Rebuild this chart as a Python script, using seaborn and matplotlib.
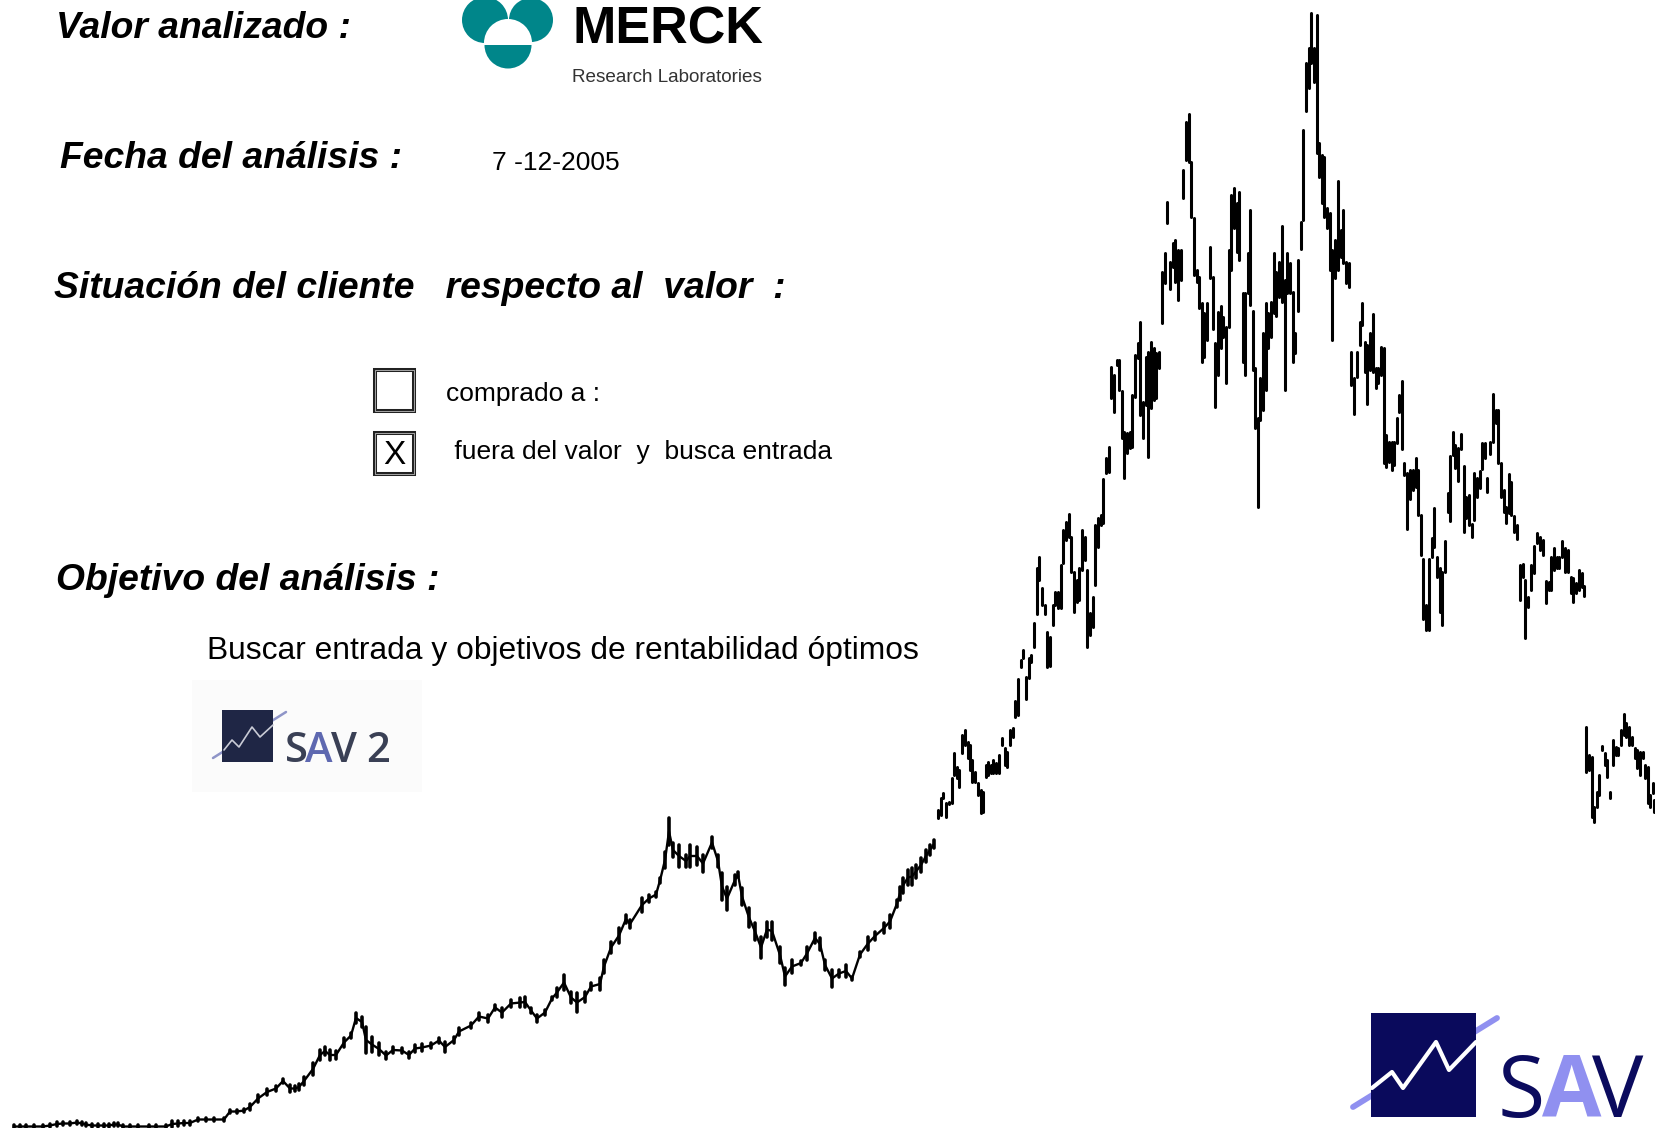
import numpy as np
import pandas as pd
import matplotlib
matplotlib.use("Agg")
import matplotlib.pyplot as plt
from matplotlib import font_manager
from matplotlib.patches import Circle, Rectangle, Wedge
import seaborn as sns

# price bars (position, high, low, in picture units, y grows downwards)
base_x = [14, 20, 26, 34, 43, 50, 57, 63, 70, 77, 82, 86, 92, 98, 104, 109, 114, 118, 123, 130, 138, 149, 156, 166, 172, 178, 184, 190, 198, 206, 214, 224, 230, 237, 244, 250, 258, 267, 276, 283, 290, 295, 299, 304, 313, 320, 325, 330, 336, 344, 351]
base_hi = [1125, 1125, 1125, 1125, 1125, 1124, 1122, 1122, 1122, 1121, 1122, 1123, 1124, 1124, 1124, 1124, 1123, 1123, 1125, 1125, 1125, 1125, 1125, 1125, 1121, 1121, 1121, 1121, 1118, 1118, 1118, 1118, 1110, 1110, 1109, 1104, 1095, 1089, 1086, 1079, 1085, 1086, 1084, 1077, 1063, 1050, 1047, 1050, 1051, 1038, 1033]
base_lo = [1128, 1128, 1128, 1128, 1128, 1127, 1126, 1125, 1125, 1124, 1125, 1126, 1127, 1127, 1127, 1127, 1126, 1126, 1128, 1128, 1128, 1128, 1128, 1128, 1127, 1126, 1125, 1125, 1121, 1121, 1121, 1121, 1113, 1113, 1112, 1110, 1102, 1095, 1091, 1083, 1092, 1091, 1090, 1085, 1075, 1060, 1055, 1060, 1059, 1047, 1038]

hump_x = [356, 362, 366, 372, 379, 386, 393, 402, 409, 415, 422, 431, 439, 445, 454, 459, 471, 479, 488, 495, 502, 511, 520, 525, 531, 537, 545, 552, 557, 564, 571, 577, 585, 591, 600, 604, 611, 619, 626, 630, 642, 649, 656, 660, 665, 669]
hump_hi = [1013, 1017, 1027, 1037, 1043, 1052, 1047, 1048, 1052, 1045, 1044, 1043, 1038, 1042, 1037, 1028, 1023, 1013, 1015, 1005, 1008, 1000, 998, 997, 1008, 1015, 1010, 997, 988, 975, 992, 993, 992, 983, 978, 960, 942, 928, 915, 920, 898, 895, 892, 878, 852, 818]
hump_lo = [1023, 1027, 1053, 1052, 1055, 1059, 1053, 1053, 1058, 1052, 1051, 1048, 1043, 1052, 1043, 1035, 1028, 1020, 1022, 1010, 1017, 1007, 1007, 1007, 1013, 1022, 1015, 1000, 997, 990, 1003, 1012, 1002, 990, 990, 973, 953, 943, 923, 928, 912, 902, 897, 883, 868, 845]

dip_x = [673, 679, 686, 690, 697, 703, 712, 718, 722, 727, 735, 738, 742, 749, 755, 761, 767, 772, 780, 785, 792, 801, 807, 815, 820, 825, 832, 839, 846, 852, 860, 868, 875, 884, 890, 897, 900, 903, 908, 912, 916, 921, 926, 930, 934]
dip_hi = [843, 845, 855, 845, 847, 855, 837, 855, 873, 887, 875, 872, 888, 908, 923, 937, 922, 922, 947, 968, 960, 961, 947, 933, 938, 960, 970, 970, 965, 977, 952, 937, 932, 923, 915, 900, 887, 878, 870, 868, 865, 858, 850, 845, 840]
dip_lo = [857, 867, 867, 867, 865, 872, 848, 867, 900, 910, 885, 877, 905, 927, 940, 958, 937, 940, 963, 985, 973, 965, 960, 943, 950, 970, 987, 977, 977, 980, 957, 950, 940, 933, 928, 907, 900, 893, 885, 885, 878, 872, 862, 855, 848]

rise_x = [938, 941, 943, 946, 949, 952, 954, 957, 959, 962, 965, 968, 970, 972, 975, 978, 981, 983, 986, 988, 991, 993, 996, 999, 1002, 1005, 1007, 1010, 1013, 1015, 1018, 1021, 1023, 1026, 1029, 1031, 1034, 1037, 1039, 1042, 1045, 1047, 1050, 1053, 1055, 1058, 1061, 1063, 1066, 1069, 1071, 1074, 1077, 1079, 1082, 1085, 1087, 1090, 1093, 1095, 1098, 1101, 1103, 1106, 1109]
rise_hi = [810, 798, 793, 803, 802, 778, 753, 767, 770, 735, 730, 742, 745, 760, 772, 783, 790, 792, 765, 762, 765, 760, 763, 755, 738, 748, 752, 730, 728, 701, 679, 660, 650, 677, 658, 655, 623, 568, 557, 588, 605, 632, 637, 605, 592, 592, 565, 530, 522, 514, 537, 572, 580, 568, 530, 537, 570, 613, 597, 525, 518, 515, 479, 458, 447]
rise_lo = [818, 815, 798, 817, 804, 803, 775, 778, 787, 753, 745, 758, 770, 782, 782, 795, 813, 812, 777, 775, 773, 773, 773, 773, 745, 765, 767, 745, 737, 717, 715, 667, 658, 699, 678, 662, 647, 614, 580, 605, 614, 667, 666, 625, 605, 608, 608, 563, 540, 537, 572, 612, 602, 600, 570, 560, 647, 635, 627, 585, 547, 525, 523, 473, 472]

top_x = [1111, 1114, 1117, 1119, 1122, 1124, 1127, 1130, 1132, 1135, 1138, 1140, 1143, 1146, 1148, 1151, 1154, 1156, 1159, 1162, 1165, 1167, 1170, 1173, 1175, 1178, 1181, 1183, 1186, 1189, 1191, 1194, 1197, 1199, 1202, 1204, 1207, 1210, 1213, 1215, 1218, 1221, 1223, 1226, 1229, 1231, 1234, 1237, 1239, 1243, 1245, 1248, 1250, 1253, 1255, 1258, 1260, 1263, 1266, 1268, 1271, 1274, 1276, 1279, 1282, 1285, 1287, 1290, 1293, 1295, 1298]
top_hi = [367, 375, 360, 360, 391, 432, 433, 432, 395, 355, 343, 322, 402, 357, 352, 342, 348, 353, 352, 272, 253, 202, 262, 243, 240, 250, 250, 170, 122, 114, 162, 218, 270, 277, 303, 313, 303, 247, 277, 343, 312, 306, 317, 327, 250, 195, 188, 203, 192, 293, 293, 253, 210, 311, 368, 418, 378, 333, 303, 313, 302, 253, 272, 262, 226, 280, 253, 263, 292, 333, 260]
top_lo = [398, 412, 365, 390, 438, 478, 453, 448, 447, 397, 358, 415, 438, 405, 457, 408, 400, 398, 368, 323, 283, 223, 289, 267, 282, 300, 280, 198, 160, 162, 217, 275, 282, 308, 362, 357, 340, 278, 329, 407, 375, 348, 337, 383, 327, 270, 228, 252, 260, 362, 375, 293, 305, 370, 428, 507, 420, 410, 390, 348, 337, 313, 316, 297, 302, 390, 293, 293, 362, 353, 311]

peak_x = [1301, 1303, 1306, 1309, 1311, 1314, 1317, 1319, 1322, 1324, 1327, 1330, 1332, 1335, 1338, 1341, 1343, 1346, 1349, 1351, 1354, 1357, 1360, 1362, 1365, 1367, 1370, 1373, 1376, 1378, 1381, 1384, 1386, 1389, 1392, 1394, 1397, 1399, 1402, 1404]
peak_hi = [222, 130, 63, 48, 13, 48, 15, 143, 155, 157, 208, 213, 250, 240, 181, 230, 210, 262, 263, 352, 378, 352, 322, 303, 342, 345, 333, 314, 368, 368, 347, 348, 435, 442, 442, 442, 418, 395, 381, 463]
peak_lo = [249, 220, 111, 88, 63, 82, 153, 177, 203, 217, 228, 270, 340, 278, 270, 257, 263, 283, 287, 385, 414, 377, 345, 325, 372, 404, 370, 372, 388, 383, 375, 463, 467, 462, 470, 465, 443, 412, 449, 475]

fall_x = [1407, 1410, 1413, 1416, 1418, 1421, 1423, 1426, 1429, 1432, 1434, 1437, 1440, 1442, 1445, 1448, 1450, 1453, 1455, 1458, 1461, 1464, 1466, 1469, 1472, 1474, 1477, 1480, 1482, 1485, 1487, 1490, 1493, 1496, 1498, 1501, 1504, 1506, 1509, 1511, 1514, 1517, 1520, 1523, 1525, 1528, 1531, 1534, 1537, 1540, 1543, 1546, 1549, 1551, 1554, 1557, 1559, 1562, 1565, 1568, 1571, 1573, 1576, 1579, 1582, 1584]
fall_hi = [473, 470, 470, 458, 470, 515, 559, 605, 559, 538, 508, 557, 568, 572, 541, 493, 456, 432, 445, 448, 434, 466, 497, 495, 524, 473, 478, 471, 443, 443, 478, 442, 394, 410, 410, 463, 490, 507, 474, 482, 516, 525, 565, 564, 580, 597, 565, 546, 533, 537, 540, 581, 582, 557, 548, 557, 557, 541, 548, 550, 577, 578, 583, 570, 573, 586]
fall_lo = [529, 499, 490, 487, 515, 555, 619, 630, 630, 557, 547, 577, 612, 625, 572, 512, 521, 455, 468, 481, 449, 532, 518, 525, 537, 520, 497, 488, 469, 458, 492, 454, 442, 423, 463, 497, 512, 523, 513, 515, 532, 539, 600, 577, 638, 607, 590, 573, 543, 550, 555, 603, 590, 590, 570, 568, 568, 557, 572, 572, 593, 602, 593, 590, 587, 596]

tail_x = [1586, 1589, 1592, 1594, 1597, 1599, 1602, 1605, 1607, 1610, 1613, 1616, 1618, 1621, 1624, 1626, 1629, 1632, 1635, 1637, 1640, 1643, 1645, 1648, 1650, 1653, 1654]
tail_hi = [727, 755, 757, 807, 792, 775, 746, 753, 760, 792, 740, 747, 748, 730, 714, 723, 727, 737, 748, 750, 752, 752, 765, 767, 795, 783, 800]
tail_lo = [772, 770, 817, 822, 807, 795, 750, 765, 777, 798, 765, 755, 755, 745, 735, 737, 745, 745, 758, 768, 775, 758, 778, 803, 807, 793, 812]

headings = ["Valor analizado :", "Fecha del análisis :", "Situación del cliente   respecto al  valor  :", "Objetivo del análisis :"]
analysis_date = "7 -12-2005"
option_labels = ["comprado a :", " fuera del valor  y  busca entrada"]
objective = "Buscar entrada y objetivos de rentabilidad óptimos"

sns.set_theme(style="white")
installed = {f.name for f in font_manager.fontManager.ttflist}
narrow = "Liberation Sans Narrow" if "Liberation Sans Narrow" in installed else "Liberation Sans"
plt.rcParams["font.family"] = ["Liberation Sans", "DejaVu Sans"]

low_x = base_x + hump_x + dip_x
low_hi = base_hi + hump_hi + dip_hi
low_lo = base_lo + hump_lo + dip_lo
high_x = rise_x + top_x + peak_x + fall_x + tail_x
high_hi = rise_hi + top_hi + peak_hi + fall_hi + tail_hi
high_lo = rise_lo + top_lo + peak_lo + fall_lo + tail_lo


def long_form(x, hi, lo):
    bars = pd.DataFrame({"bar": range(len(x)), "x": x, "hi": hi, "lo": lo})
    return bars.melt(id_vars=["bar", "x"], value_vars=["hi", "lo"], value_name="price")


trace = pd.DataFrame({"x": low_x, "price": (np.array(low_hi) + np.array(low_lo)) / 2})

fig = plt.figure(figsize=(16.55, 11.28), dpi=100)
ax = fig.add_axes([0, 0, 1, 1])

sns.lineplot(data=trace, x="x", y="price", estimator=None, sort=False,
             color="black", linewidth=1.7, legend=False, ax=ax)
sns.lineplot(data=long_form(low_x, low_hi, low_lo), x="x", y="price", units="bar",
             estimator=None, sort=False, color="black", linewidth=2.6, legend=False, ax=ax)
sns.lineplot(data=long_form(high_x, high_hi, high_lo), x="x", y="price", units="bar",
             estimator=None, sort=False, color="black", linewidth=2.2, legend=False, ax=ax)

ax.set_xlim(0, 1655)
ax.set_ylim(1128, 0)
ax.axis("off")

# text block
bold = dict(fontweight="bold", fontstyle="italic", fontsize=26.8, color="black", va="center")
ax.text(56, 28, headings[0], **bold)
ax.text(60, 159, headings[1], **bold)
ax.text(54, 288, headings[2], **bold)
ax.text(56, 581, headings[3], **bold)
ax.text(492, 163, analysis_date, fontsize=19, color="black", va="center")
ax.text(446, 394, option_labels[0], fontsize=19, color="black", va="center")
ax.text(447, 452, option_labels[1], fontsize=19, color="black", va="center")
ax.text(207, 651, objective, fontsize=22.9, color="black", va="center")

# check boxes
for top in [368, 431]:
    ax.add_patch(Rectangle((375, top + 2), 39, 41, fc="white", ec="#222222", lw=2.9))
    ax.add_patch(Rectangle((375, top + 2), 39, 41, fill=False, ec="#bbbbbb", lw=0.6))
ax.text(394.5, 455, "X", fontsize=24, color="black", ha="center", va="center")

# Merck logo
teal = "#00868a"
ax.add_patch(Circle((485, 20), 23, fc=teal, ec="none"))
ax.add_patch(Circle((531, 20), 22, fc=teal, ec="none"))
ax.add_patch(Circle((508, 43), 24, fc="white", ec="none"))
ax.add_patch(Wedge((508, 45), 23.5, 0, 180, fc=teal, ec="none"))
ax.text(572, 44, "MERCK", family=narrow, fontweight="bold", fontsize=37.5, color="black",
        va="baseline", ha="left")
ax.text(572, 78, "Research Laboratories", family=narrow, fontsize=13.6, color="#333333",
        va="center", ha="left")

# SAV 2 logo
ax.add_patch(Rectangle((192, 680), 230, 112, fc="#fbfbfb", ec="none"))
ax.plot([213, 286], [758, 712], color="#8f95c8", lw=1.8, zorder=1.5)
ax.add_patch(Rectangle((222, 710), 51, 52, fc="#1f2645", ec="none", zorder=2))
ax.plot([224, 232, 239, 252, 260, 273], [750, 740, 747, 727, 737, 725], color="#c9cbd6", lw=1.2, zorder=4)
small = dict(fontsize=30, family="Open Sans", fontweight="semibold", va="baseline", ha="left")
ax.text(285, 762, "S", color="#3a4055", **small)
ax.text(305, 762, "A", color="#5e68b0", **small)
ax.text(331, 762, "V", color="#3a4055", **small)
ax.text(366, 762, "2", color="#3a4055", **small)

# SAV logo
ax.plot([1353, 1497], [1107, 1018], color="#9090f0", lw=4.2, zorder=1.5)
ax.add_patch(Rectangle((1371, 1013), 105, 104, fc="#0a0a5c", ec="none", zorder=2))
ax.plot([1372, 1392, 1403, 1436, 1449, 1476], [1088, 1072, 1088, 1042, 1070, 1042],
        color="white", lw=3, zorder=4)
big = dict(fontsize=62, family="Open Sans", va="baseline", ha="left")
ax.text(1498, 1117, "S", color="#0b0b5e", **big)
ax.text(1542, 1117, "A", color="#9090f0", fontweight="bold", **big)
ax.text(1592, 1117, "V", color="#0b0b5e", **big)

plt.savefig("out.png", dpi=100)
plt.close()
